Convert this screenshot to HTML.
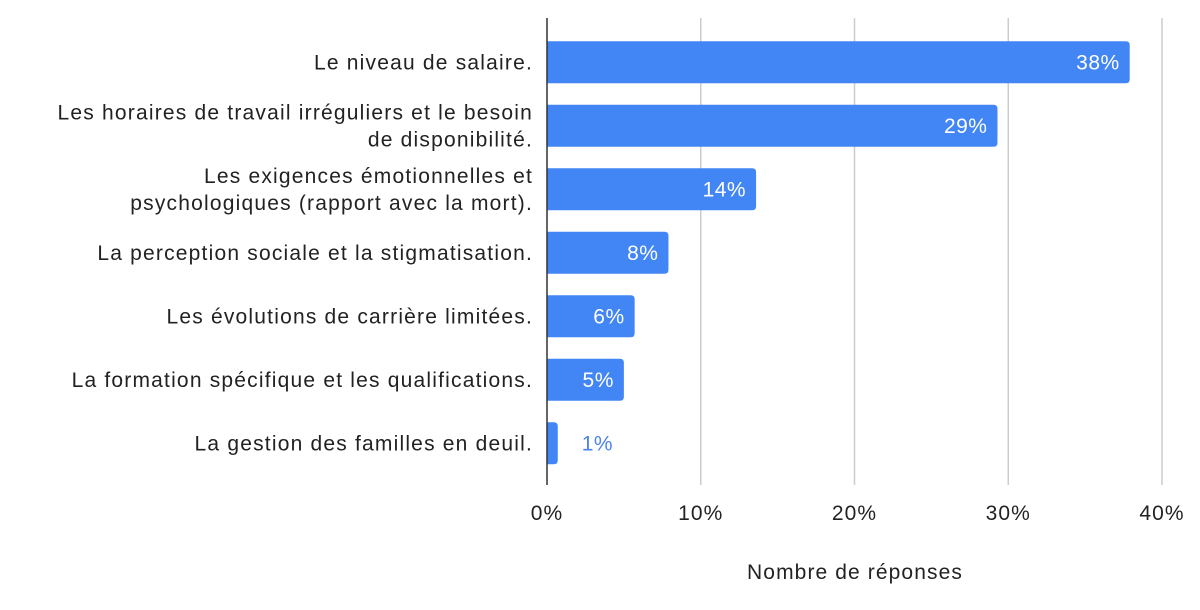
<!DOCTYPE html>
<html><head><meta charset="utf-8"><style>
body{margin:0;background:#fff;}
svg{display:block;font-family:"Liberation Sans",sans-serif;}
.wide{letter-spacing:1.1px;}
.cat{letter-spacing:1.2px;}
</style></head><body>
<svg id="chart" width="1200" height="610" viewBox="0 0 1200 610" xmlns="http://www.w3.org/2000/svg"></svg>
<script>
const categories=[["Le niveau de salaire."],["Les horaires de travail irréguliers et le besoin","de disponibilité."],["Les exigences émotionnelles et","psychologiques (rapport avec la mort)."],["La perception sociale et la stigmatisation."],["Les évolutions de carrière limitées."],["La formation spécifique et les qualifications."],["La gestion des familles en deuil."]];
const values=[37.9,29.3,13.6,7.9,5.7,5.0,0.7];
const valueLabels=["38%","29%","14%","8%","6%","5%","1%"];
const ticks=[0,10,20,30,40];
const tickLabels=["0%","10%","20%","30%","40%"];
const svg=document.getElementById('chart');
const NS="http://www.w3.org/2000/svg";
const x0=547,pxPer=153.75,top0=30.5,band=63.5,barH=42;
const xs=v=>x0+v*pxPer/10;
const yc=i=>top0+band*i+band/2;
function mk(t,a,txt){const e=document.createElementNS(NS,t);for(const k in a)e.setAttribute(k,a[k]);if(txt!==undefined)e.textContent=txt;svg.appendChild(e);return e;}
ticks.forEach((t,i)=>{
 if(t>0){const g=mk('line',{x1:xs(t),x2:xs(t),y1:18,y2:485,stroke:'#cccccc','stroke-width':1.5});
 
 }
 const l=mk('text',{x:xs(t),y:520,'font-size':21,fill:'#222','text-anchor':'middle','class':'wide'},tickLabels[i]);
 
 
});
values.forEach((v,i)=>{
 const y=yc(i),w=xs(v)-x0;
 const r=Math.min(4,w/2);
 const p=mk('path',{d:`M${x0},${y-barH/2}H${x0+w-r}Q${x0+w},${y-barH/2} ${x0+w},${y-barH/2+r}V${y+barH/2-r}Q${x0+w},${y+barH/2} ${x0+w-r},${y+barH/2}H${x0}Z`,fill:'#4285f4'});
 
 
 const inside=w>60;
 const t=mk('text',{x:inside?x0+w-10:x0+w+24,y:y+7,'font-size':21,fill:inside?'#fff':'#4a86e8','text-anchor':inside?'end':'start','letter-spacing':'0.5px'},valueLabels[i]);
 
 
 const lines=categories[i];
 lines.forEach((s,j)=>{
  const ly=y+7+(j-(lines.length-1)/2)*27;
  const c=mk('text',{x:533,y:ly,'font-size':21,fill:'#222','text-anchor':'end','class':'cat'},s);
  
  
 });
});
const ax=mk('line',{x1:x0,x2:x0,y1:18,y2:485,stroke:'#333','stroke-width':1.5});


const tt=mk('text',{x:855,y:579,'font-size':21,fill:'#222','text-anchor':'middle','class':'wide'},"Nombre de réponses");


</script>
</body></html>
